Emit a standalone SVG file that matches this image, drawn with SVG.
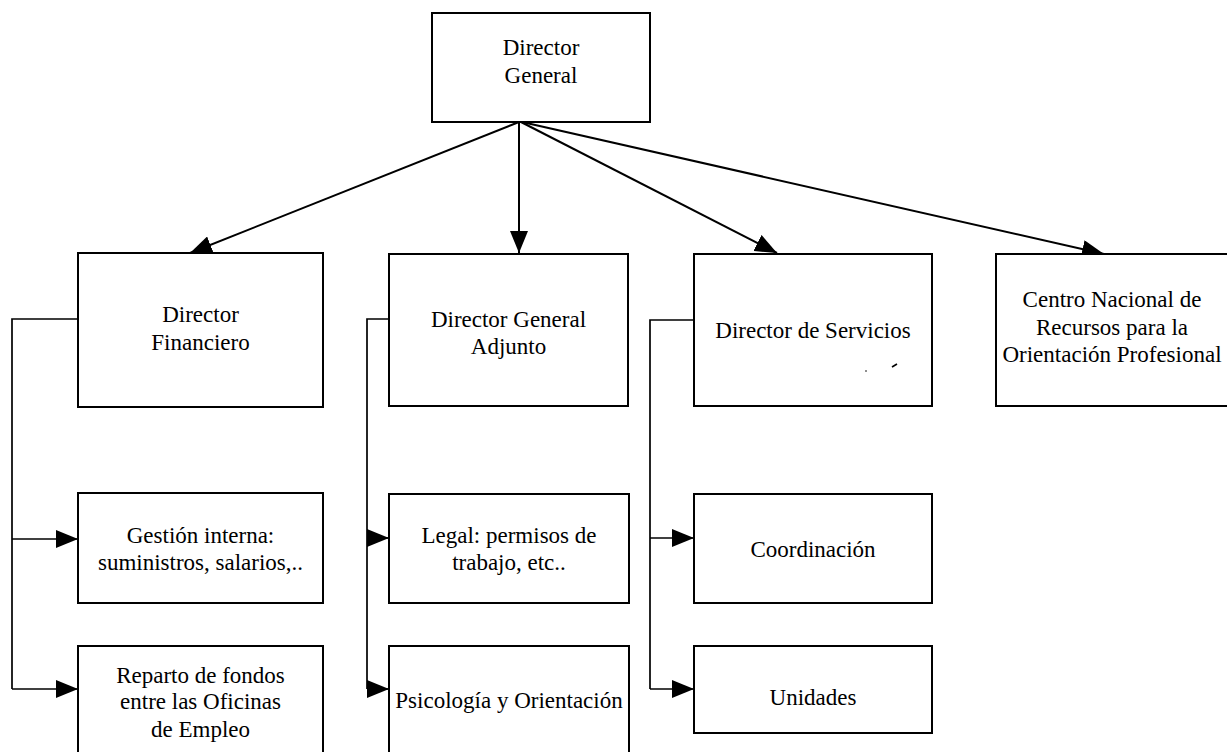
<svg xmlns="http://www.w3.org/2000/svg" width="1227" height="752" viewBox="0 0 1227 752">
<style>
.box{fill:#fff;stroke:#000;stroke-width:2}
.t{font-family:"Liberation Serif","Times New Roman",serif;font-size:23px;fill:#000;text-anchor:middle}
.c{fill:none;stroke:#000;stroke-width:2}
.b{fill:none;stroke:#000;stroke-width:1.7}
</style>
<defs>
<marker id="ah" markerUnits="userSpaceOnUse" markerWidth="22" markerHeight="18" refX="22" refY="9" orient="auto" viewBox="0 0 22 18">
<path d="M0,0 L22,9 L0,18 z" fill="#000"/>
</marker>
</defs>
<g id="connectors">
<line class="c" x1="519" y1="122" x2="190" y2="253" marker-end="url(#ah)"/>
<line class="c" x1="519" y1="122" x2="519" y2="253" marker-end="url(#ah)"/>
<line class="c" x1="521" y1="122" x2="777" y2="253" marker-end="url(#ah)"/>
<line class="c" x1="522" y1="122" x2="1104" y2="254" marker-end="url(#ah)"/>
<polyline class="b" points="78,319 12,319 12,689"/>
<line class="b" x1="12" y1="539" x2="78" y2="539" marker-end="url(#ah)"/>
<line class="b" x1="12" y1="689" x2="78" y2="689" marker-end="url(#ah)"/>
<polyline class="b" points="389,319 367,319 367,689"/>
<line class="b" x1="367" y1="538" x2="389" y2="538" marker-end="url(#ah)"/>
<line class="b" x1="367" y1="689" x2="389" y2="689" marker-end="url(#ah)"/>
<polyline class="b" points="694,320 650,320 650,689"/>
<line class="b" x1="650" y1="538" x2="694" y2="538" marker-end="url(#ah)"/>
<line class="b" x1="650" y1="689" x2="694" y2="689" marker-end="url(#ah)"/>
</g>
<g id="director-general">
<rect class="box" x="432" y="13" width="218" height="109"/>
<text class="t" x="541" y="55">Director</text>
<text class="t" x="541" y="83">General</text>
</g>
<g id="director-financiero">
<rect class="box" x="78" y="253" width="245" height="154"/>
<text class="t" x="200.5" y="322">Director</text>
<text class="t" x="200.5" y="350">Financiero</text>
</g>
<g id="director-general-adjunto">
<rect class="box" x="389" y="254" width="239" height="152"/>
<text class="t" x="508.5" y="327">Director General</text>
<text class="t" x="508.5" y="354">Adjunto</text>
</g>
<g id="director-servicios">
<rect class="box" x="694" y="254" width="238" height="152"/>
<text class="t" x="813" y="338">Director de Servicios</text>
<circle cx="866" cy="371" r="0.8" fill="#000"/>
<line x1="892" y1="367" x2="897" y2="364" stroke="#000" stroke-width="1.6"/>
</g>
<g id="centro-nacional">
<rect class="box" x="996" y="254" width="234" height="152"/>
<text class="t" x="1112" y="307">Centro Nacional de</text>
<text class="t" x="1112" y="335">Recursos para la</text>
<text class="t" x="1112" y="362">Orientación Profesional</text>
</g>
<g id="gestion-interna">
<rect class="box" x="78" y="493" width="245" height="110"/>
<text class="t" x="200.5" y="543">Gestión interna:</text>
<text class="t" x="200.5" y="570">suministros, salarios,..</text>
</g>
<g id="reparto-fondos">
<rect class="box" x="78" y="646" width="245" height="110"/>
<text class="t" x="200.5" y="683">Reparto de fondos</text>
<text class="t" x="200.5" y="709">entre las Oficinas</text>
<text class="t" x="200.5" y="737">de Empleo</text>
</g>
<g id="legal">
<rect class="box" x="389" y="494" width="240" height="109"/>
<text class="t" x="509" y="543">Legal: permisos de</text>
<text class="t" x="509" y="570">trabajo, etc..</text>
</g>
<g id="psicologia">
<rect class="box" x="389" y="646" width="240" height="110"/>
<text class="t" x="509" y="708">Psicología y Orientación</text>
</g>
<g id="coordinacion">
<rect class="box" x="694" y="494" width="238" height="109"/>
<text class="t" x="813" y="557">Coordinación</text>
</g>
<g id="unidades">
<rect class="box" x="694" y="646" width="238" height="87"/>
<text class="t" x="813" y="705">Unidades</text>
</g>
</svg>
